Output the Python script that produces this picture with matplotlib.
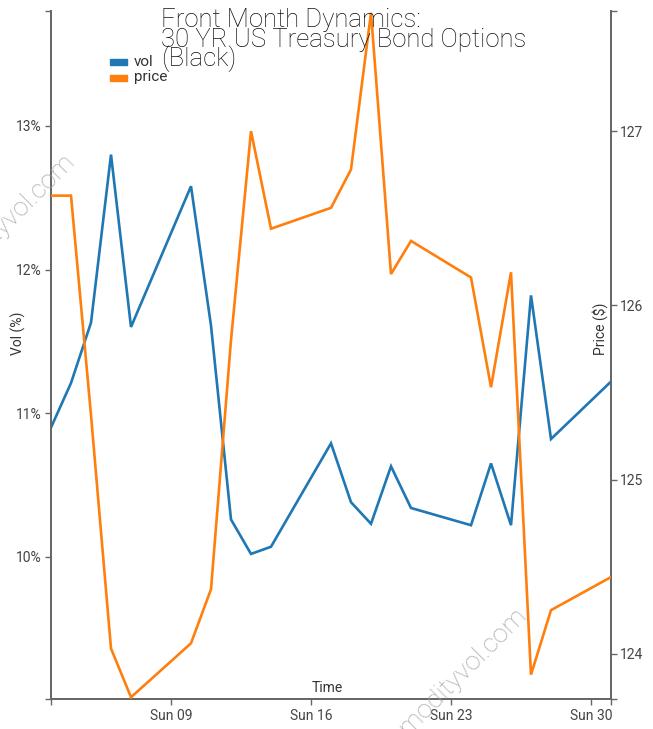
import matplotlib
matplotlib.use("Agg")
import matplotlib.pyplot as plt
import matplotlib.dates as mdates
import numpy as np
import pandas as pd

dates = pd.to_datetime([
    "2018-12-03", "2018-12-04", "2018-12-05", "2018-12-06", "2018-12-07",
    "2018-12-10", "2018-12-11", "2018-12-12", "2018-12-13", "2018-12-14",
    "2018-12-17", "2018-12-18", "2018-12-19", "2018-12-20", "2018-12-21",
    "2018-12-24", "2018-12-25", "2018-12-26", "2018-12-27", "2018-12-28",
    "2018-12-31"])
vol = [10.90, 11.21, 11.63, 12.80, 11.60,
       12.58, 11.61, 10.26, 10.02, 10.07,
       10.79, 10.38, 10.23, 10.63, 10.34,
       10.22, 10.65, 10.22, 11.82, 10.82,
       11.22]
price = [126.63, 126.63, 125.37, 124.03, 123.75,
         124.06, 124.37, 125.80, 127.00, 126.44,
         126.56, 126.78, 127.68, 126.18, 126.37,
         126.16, 125.53, 126.19, 123.88, 124.25,
         124.44]
vol_ticks = [10, 11, 12, 13]
price_ticks = [124, 125, 126, 127]
x_ticks = pd.to_datetime(["2018-12-09", "2018-12-16", "2018-12-23", "2018-12-30"])

FONT = "Roboto"
SPINE = "#666666"
TXT = "#444444"

W, H = 653, 729
fig = plt.figure(figsize=(W / 100, H / 100), dpi=100)
L, R, T, B = 51, 611, 11, 699
ax = fig.add_axes([L / W, 1 - B / H, (R - L) / W, (B - T) / H])
ax2 = ax.twinx()

ax.plot(dates, vol, color="#1f77b4", lw=1.9, solid_joinstyle="miter", zorder=2)
ax2.plot(dates, price, color="#ff7f0e", lw=1.9, solid_joinstyle="miter", zorder=3)

vlo, vhi = min(vol) - 1.01, max(vol) + 1.0
plo, phi = min(price) - 0.01, max(price) + 0.01
ax.set_ylim(vlo, vhi)
ax2.set_ylim(plo, phi)
ax.set_xlim(dates[0], dates[-1])

ax.set_yticks(vol_ticks)
ax.set_yticklabels([f"{v}%" for v in vol_ticks])
ax2.set_yticks(price_ticks)
ax2.set_yticklabels([str(p) for p in price_ticks])
ax.set_xticks(x_ticks)
ax.set_xticklabels([d.strftime("%a %d") for d in x_ticks])

# end ticks (d3 style outer ticks)
ax.set_yticks([vlo, vhi], minor=True)
ax2.set_yticks([plo, phi], minor=True)
ax.set_xticks([mdates.date2num(dates[0]), mdates.date2num(dates[-1])], minor=True)

for a in (ax, ax2):
    for s in a.spines.values():
        s.set_color(SPINE)
        s.set_linewidth(1.3)
    a.spines["top"].set_visible(False)
    a.tick_params(which="both", direction="out", length=4.5, width=1.0,
                  color=SPINE, labelcolor=TXT, labelsize=10)
    for lab in a.get_xticklabels() + a.get_yticklabels():
        lab.set_fontfamily(FONT)
ax.tick_params(axis="y", pad=2)
ax2.tick_params(axis="y", pad=2)
ax.tick_params(axis="x", pad=3)
ax.set_facecolor("none")
ax2.patch.set_visible(False)

lab_kw = dict(fontfamily=FONT, fontsize=10, color="#333333")
ax.set_ylabel("Vol (%)", **lab_kw)
ax.yaxis.set_label_coords((18.5 - L) / (R - L), (B - 333) / (B - T))
ax.yaxis.label.set_va("center")
ax2.set_ylabel("Price ($)", **lab_kw)
ax2.yaxis.set_label_position("right")
ax2.yaxis.set_label_coords((600 - R) / (R - L) + 1, (B - 329) / (B - T))
ax2.yaxis.label.set_rotation(90)
ax2.yaxis.label.set_va("center")
ax.set_xlabel("Time", **lab_kw)
ax.xaxis.set_label_coords((327 - L) / (R - L), (B - 688) / (B - T))
ax.xaxis.label.set_va("center")

# title
title_lines = ["Front Month Dynamics:", "30 YR US Treasury Bond Options", "(Black)"]
for i, line in enumerate(title_lines):
    fig.text(161 / W, 1 - (27.5 + 19.5 * i) / H, line, fontfamily=FONT,
             fontweight="light", fontsize=18.5, color="#111111",
             ha="left", va="baseline")

# legend
from matplotlib.patches import Rectangle
for i, (name, col) in enumerate([("vol", "#1f77b4"), ("price", "#ff7f0e")]):
    yc = 61.5 + 16 * i
    fig.patches.append(Rectangle((110 / W, 1 - (yc + 3) / H), 17 / W, 6 / H,
                                 transform=fig.transFigure, color=col, zorder=5))
    fig.text(134 / W, 1 - yc / H, name, fontfamily=FONT,
             fontsize=11, color="#333333", ha="left", va="center")

# watermarks
for (xe, ye) in [(76, 163), (528, 617)]:
    fig.text(xe / W, 1 - ye / H, "commodityvol.com", rotation=45,
             rotation_mode="anchor", ha="right", va="baseline",
             fontfamily=FONT, fontweight="light", fontsize=19,
             color="#aaaaaa", zorder=0)

fig.savefig("out.png", dpi=100)
